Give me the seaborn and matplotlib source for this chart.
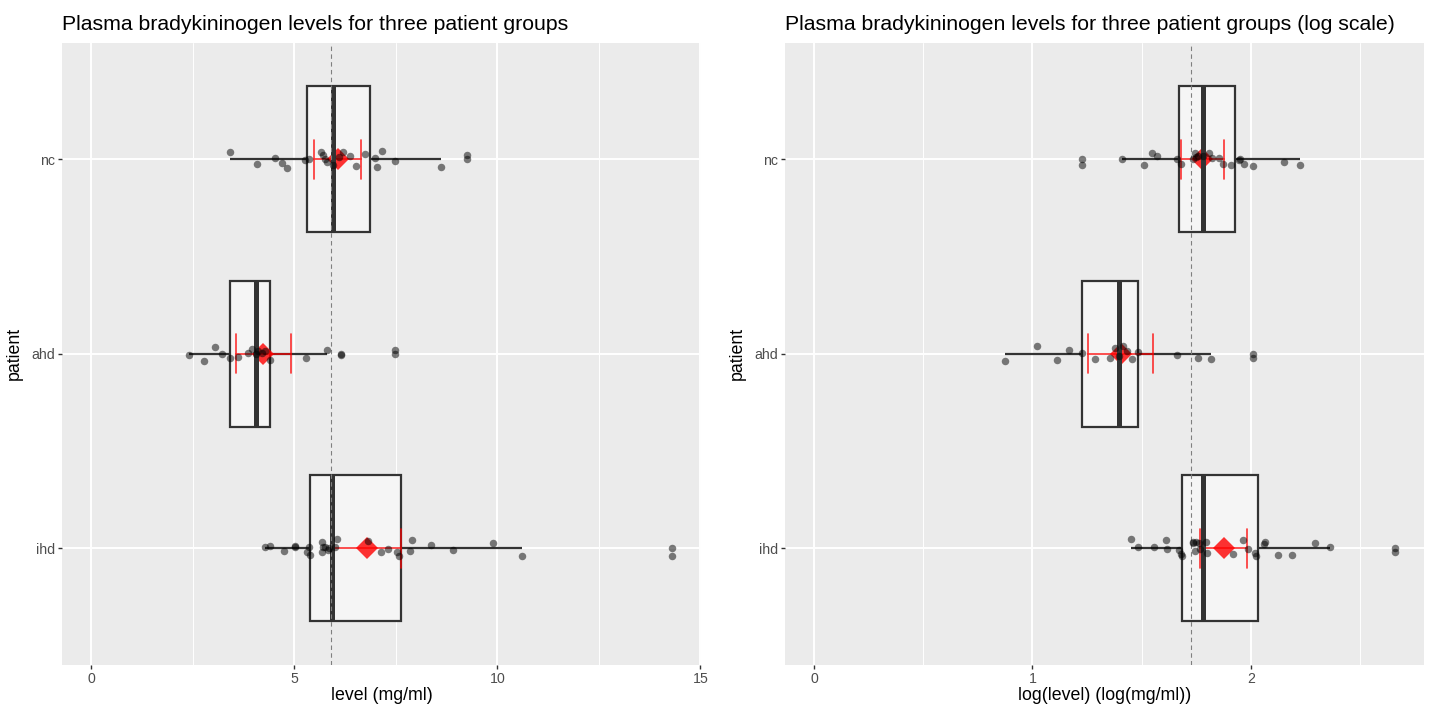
import numpy as np
import pandas as pd
import matplotlib
matplotlib.use('Agg')
import matplotlib.pyplot as plt
import seaborn as sns
from matplotlib.ticker import MultipleLocator

# bradykininogen levels (mg/ml)
groups = ['nc', 'ahd', 'ihd']
level_nc = [3.41, 4.09, 4.54, 4.70, 4.82, 5.27, 5.37, 5.67, 5.72, 5.76, 5.81, 5.95,
            6.10, 6.19, 6.38, 6.52, 6.74, 7.00, 7.04, 7.16, 7.48, 8.61, 9.25]
level_ahd = [2.40, 2.77, 3.04, 3.22, 3.41, 3.62, 3.87, 3.97, 4.05, 4.12, 4.20, 4.29,
             4.41, 5.28, 5.81, 6.16, 7.48]
level_ihd = [4.27, 4.40, 4.75, 5.02, 5.03, 5.32, 5.37, 5.40, 5.68, 5.68, 5.72, 5.76,
             5.83, 5.85, 6.01, 6.05, 6.81, 7.13, 7.31, 7.52, 7.57, 7.85, 7.90, 8.36,
             8.92, 9.90, 10.60, 14.30]

df = pd.DataFrame({
    'patient': ['nc'] * len(level_nc) + ['ahd'] * len(level_ahd) + ['ihd'] * len(level_ihd),
    'level': level_nc + level_ahd + level_ihd,
})
df['log_level'] = np.log(df['level'])


def t_quant(nu, z=1.959964):
    # Cornish-Fisher approx of the 97.5% t quantile
    return (z + (z**3 + z) / (4 * nu) + (5 * z**5 + 16 * z**3 + 3 * z) / (96 * nu**2)
            + (3 * z**7 + 19 * z**5 + 17 * z**3 - 15 * z) / (384 * nu**3))


def mean_cl_normal(x):
    x = np.asarray(x)
    n = len(x)
    m = x.mean()
    h = t_quant(n - 1) * x.std(ddof=1) / np.sqrt(n)
    return m - h, m + h


sns.set_style('darkgrid')
plt.rcParams['font.family'] = ['Liberation Sans', 'DejaVu Sans']

fig = plt.figure(figsize=(14.3, 7.07), dpi=100)
ax1 = fig.add_axes([62 / 1430, 1 - 664.7 / 707, 639 / 1430, 622 / 707])
ax2 = fig.add_axes([785 / 1430, 1 - 664.7 / 707, 639 / 1430, 622 / 707])

np.random.seed(7)

panels = [
    (ax1, 'level', 'level (mg/ml)', 'Plasma bradykininogen levels for three patient groups', 5, 2.5),
    (ax2, 'log_level', 'log(level) (log(mg/ml))',
     'Plasma bradykininogen levels for three patient groups (log scale)', 1, 0.5),
]

for ax, col, xlab, title, major, minor in panels:
    ax.set_facecolor('#EBEBEB')
    sns.boxplot(data=df, x=col, y='patient', order=groups, orient='h', ax=ax,
                width=0.75, color='#F5F5F5', saturation=1, linecolor='#333333',
                linewidth=1.6, showcaps=False, whis=1.5,
                medianprops={'linewidth': 3.6, 'color': '#333333'},
                flierprops={'marker': 'o', 'markerfacecolor': 'black',
                            'markeredgewidth': 0, 'markersize': 5.4, 'alpha': 0.5},
                zorder=2)
    # overall mean as reference line
    ax.axvline(df[col].mean(), color='#7F7F7F', linestyle=(0, (4, 3)),
               linewidth=0.8, zorder=2.5)
    sns.stripplot(data=df, x=col, y='patient', order=groups, orient='h', ax=ax,
                  jitter=0.045, color='black', alpha=0.5, size=5.4, linewidth=0,
                  zorder=3)
    sns.pointplot(data=df, x=col, y='patient', order=groups, orient='h', ax=ax,
                  estimator='mean', errorbar=mean_cl_normal, color='red',
                  markers='D', linestyles='none', capsize=0.2, markersize=11,
                  markeredgewidth=0, alpha=0.8,
                  err_kws={'linewidth': 1.2, 'alpha': 0.8})

    hi = df[col].max()
    pad = 0.05 * hi
    ax.set_xlim(-pad, hi + pad)
    ax.set_ylim(2.6, -0.6)
    ax.xaxis.set_major_locator(MultipleLocator(major))
    ax.xaxis.set_minor_locator(MultipleLocator(minor))
    ax.grid(which='major', color='white', linewidth=1.4)
    ax.grid(which='minor', axis='x', color='white', linewidth=0.7)
    ax.set_axisbelow(True)
    for s in ax.spines.values():
        s.set_visible(False)
    ax.tick_params(axis='both', which='major', length=3.2, width=1.0, color='#333333',
                   labelsize=10.2, labelcolor='#4D4D4D', pad=2, bottom=True, left=True)
    ax.tick_params(axis='x', which='minor', length=0)
    ax.set_xlabel(xlab, fontsize=12.8, color='black', labelpad=1)
    ax.set_ylabel('patient', fontsize=12.8, color='black', labelpad=6)
    ax.set_title(title, loc='left', fontsize=15.3, color='black', pad=9)

plt.savefig('out.png', dpi=100)
